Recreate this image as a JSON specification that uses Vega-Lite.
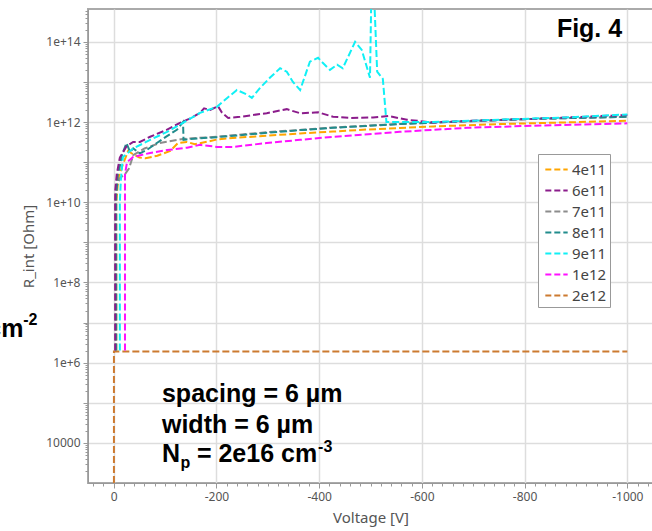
{
  "$schema": "https://vega.github.io/schema/vega-lite/v6.json",
  "width": 565,
  "height": 474,
  "autosize": {"type": "none"},
  "padding": {"left": 88, "top": 9, "right": 0, "bottom": 48},
  "background": "white",
  "config": {"view": {"stroke": "#aaa", "strokeWidth": 2}, "font": "Noto Sans"},
  "datasets": {
    "lines": [
      {"s":"2e12","i":0,"V":-0.5,"R":100},{"s":"2e12","i":1,"V":-0.5,"R":1.9e6},{"s":"2e12","i":2,"V":-1000,"R":1.9e6},

      {"s":"4e11","i":0,"V":-5,"R":2e6},{"s":"4e11","i":1,"V":-5,"R":1e10},{"s":"4e11","i":2,"V":-9,"R":4e10},{"s":"4e11","i":3,"V":-16,"R":7.5e10},{"s":"4e11","i":4,"V":-28,"R":1.9e11},{"s":"4e11","i":5,"V":-37,"R":1.6e11},{"s":"4e11","i":6,"V":-50,"R":1.3e11},{"s":"4e11","i":7,"V":-62,"R":1.25e11},{"s":"4e11","i":8,"V":-85,"R":1.45e11},{"s":"4e11","i":9,"V":-110,"R":1.9e11},{"s":"4e11","i":10,"V":-125,"R":3.0e11},{"s":"4e11","i":11,"V":-142,"R":3.2e11},{"s":"4e11","i":12,"V":-158,"R":2.8e11},{"s":"4e11","i":13,"V":-185,"R":3.3e11},{"s":"4e11","i":14,"V":-202,"R":3.7e11},{"s":"4e11","i":15,"V":-232,"R":4.0e11},{"s":"4e11","i":16,"V":-300,"R":4.6e11},{"s":"4e11","i":17,"V":-363,"R":5.2e11},{"s":"4e11","i":18,"V":-427,"R":5.8e11},{"s":"4e11","i":19,"V":-493,"R":6.5e11},{"s":"4e11","i":20,"V":-557,"R":7.1e11},{"s":"4e11","i":21,"V":-623,"R":7.8e11},{"s":"4e11","i":22,"V":-752,"R":8.9e11},{"s":"4e11","i":23,"V":-880,"R":9.8e11},{"s":"4e11","i":24,"V":-1000,"R":1.08e12},

      {"s":"7e11","i":0,"V":-3,"R":2e6},{"s":"7e11","i":1,"V":-3,"R":1.2e10},{"s":"7e11","i":2,"V":-6,"R":2.5e10},{"s":"7e11","i":3,"V":-12,"R":4e10},{"s":"7e11","i":4,"V":-22,"R":5e10},{"s":"7e11","i":5,"V":-30,"R":7e10},{"s":"7e11","i":6,"V":-38,"R":1.5e11},{"s":"7e11","i":7,"V":-60,"R":2.2e11},{"s":"7e11","i":8,"V":-90,"R":3.0e11},{"s":"7e11","i":9,"V":-135,"R":3.8e11},{"s":"7e11","i":10,"V":-200,"R":4.3e11},{"s":"7e11","i":11,"V":-300,"R":5.6e11},{"s":"7e11","i":12,"V":-427,"R":7.3e11},{"s":"7e11","i":13,"V":-557,"R":9.0e11},{"s":"7e11","i":14,"V":-688,"R":1.05e12},{"s":"7e11","i":15,"V":-816,"R":1.2e12},{"s":"7e11","i":16,"V":-1000,"R":1.35e12},

      {"s":"8e11","i":0,"V":-5,"R":2e6},{"s":"8e11","i":1,"V":-5,"R":1.5e10},{"s":"8e11","i":2,"V":-8,"R":5e10},{"s":"8e11","i":3,"V":-12,"R":8e10},{"s":"8e11","i":4,"V":-16,"R":1.5e11},{"s":"8e11","i":5,"V":-25,"R":3.0e11},{"s":"8e11","i":6,"V":-32,"R":1.8e11},{"s":"8e11","i":7,"V":-38,"R":2.2e11},{"s":"8e11","i":8,"V":-51,"R":1.66e11},{"s":"8e11","i":9,"V":-64,"R":2.0e11},{"s":"8e11","i":10,"V":-84,"R":3.0e11},{"s":"8e11","i":11,"V":-103,"R":4.4e11},{"s":"8e11","i":12,"V":-123,"R":6.4e11},{"s":"8e11","i":13,"V":-135,"R":1.0e12},{"s":"8e11","i":14,"V":-136,"R":3.6e11},{"s":"8e11","i":15,"V":-142,"R":3.7e11},{"s":"8e11","i":16,"V":-200,"R":4.2e11},{"s":"8e11","i":17,"V":-300,"R":5.4e11},{"s":"8e11","i":18,"V":-363,"R":6.3e11},{"s":"8e11","i":19,"V":-427,"R":7.2e11},{"s":"8e11","i":20,"V":-557,"R":8.9e11},{"s":"8e11","i":21,"V":-688,"R":1.05e12},{"s":"8e11","i":22,"V":-816,"R":1.2e12},{"s":"8e11","i":23,"V":-1000,"R":1.35e12},

      {"s":"6e11","i":0,"V":-3,"R":2e6},{"s":"6e11","i":1,"V":-3,"R":2e10},{"s":"6e11","i":2,"V":-6,"R":5e10},{"s":"6e11","i":3,"V":-12,"R":1.3e11},{"s":"6e11","i":4,"V":-25,"R":2.5e11},{"s":"6e11","i":5,"V":-38,"R":3.2e11},{"s":"6e11","i":6,"V":-51,"R":3.2e11},{"s":"6e11","i":7,"V":-71,"R":4.3e11},{"s":"6e11","i":8,"V":-103,"R":6.4e11},{"s":"6e11","i":9,"V":-129,"R":9.5e11},{"s":"6e11","i":10,"V":-149,"R":1.24e12},{"s":"6e11","i":11,"V":-168,"R":1.7e12},{"s":"6e11","i":12,"V":-176,"R":2.2e12},{"s":"6e11","i":13,"V":-188,"R":2.0e12},{"s":"6e11","i":14,"V":-203,"R":2.5e12},{"s":"6e11","i":15,"V":-211,"R":1.7e12},{"s":"6e11","i":16,"V":-223,"R":1.27e12},{"s":"6e11","i":17,"V":-246,"R":1.35e12},{"s":"6e11","i":18,"V":-271,"R":1.5e12},{"s":"6e11","i":19,"V":-298,"R":1.66e12},{"s":"6e11","i":20,"V":-324,"R":1.95e12},{"s":"6e11","i":21,"V":-337,"R":2.1e12},{"s":"6e11","i":22,"V":-363,"R":1.66e12},{"s":"6e11","i":23,"V":-398,"R":1.75e12},{"s":"6e11","i":24,"V":-427,"R":1.36e12},{"s":"6e11","i":25,"V":-460,"R":1.27e12},{"s":"6e11","i":26,"V":-505,"R":1.3e12},{"s":"6e11","i":27,"V":-535,"R":1.42e12},{"s":"6e11","i":28,"V":-571,"R":1.14e12},{"s":"6e11","i":29,"V":-622,"R":9.8e11},{"s":"6e11","i":30,"V":-688,"R":1.07e12},{"s":"6e11","i":31,"V":-816,"R":1.2e12},{"s":"6e11","i":32,"V":-1000,"R":1.5e12},

      {"s":"1e12","i":0,"V":-22,"R":2e6},{"s":"1e12","i":1,"V":-22,"R":5e10},{"s":"1e12","i":2,"V":-26,"R":1.0e11},{"s":"1e12","i":3,"V":-38,"R":1.35e11},{"s":"1e12","i":4,"V":-71,"R":1.7e11},{"s":"1e12","i":5,"V":-104,"R":2.0e11},{"s":"1e12","i":6,"V":-143,"R":2.3e11},{"s":"1e12","i":7,"V":-168,"R":2.7e11},{"s":"1e12","i":8,"V":-201,"R":2.4e11},{"s":"1e12","i":9,"V":-232,"R":2.4e11},{"s":"1e12","i":10,"V":-298,"R":3.0e11},{"s":"1e12","i":11,"V":-363,"R":3.6e11},{"s":"1e12","i":12,"V":-427,"R":4.3e11},{"s":"1e12","i":13,"V":-557,"R":5.7e11},{"s":"1e12","i":14,"V":-688,"R":7.2e11},{"s":"1e12","i":15,"V":-816,"R":8.1e11},{"s":"1e12","i":16,"V":-1000,"R":9.3e11},

      {"s":"9e11","i":0,"V":-12,"R":2e6},{"s":"9e11","i":1,"V":-12,"R":1e10},{"s":"9e11","i":2,"V":-14,"R":3.7e10},{"s":"9e11","i":3,"V":-18,"R":1.35e11},{"s":"9e11","i":4,"V":-38,"R":2.2e11},{"s":"9e11","i":5,"V":-71,"R":3.6e11},{"s":"9e11","i":6,"V":-104,"R":5.7e11},{"s":"9e11","i":7,"V":-135,"R":9.6e11},{"s":"9e11","i":8,"V":-168,"R":1.7e12},{"s":"9e11","i":9,"V":-201,"R":2.4e12},{"s":"9e11","i":10,"V":-221,"R":4.0e12},{"s":"9e11","i":11,"V":-240,"R":6.3e12},{"s":"9e11","i":12,"V":-260,"R":4.8e12},{"s":"9e11","i":13,"V":-269,"R":4.0e12},{"s":"9e11","i":14,"V":-285,"R":7.1e12},{"s":"9e11","i":15,"V":-304,"R":1.27e13},{"s":"9e11","i":16,"V":-324,"R":2.2e13},{"s":"9e11","i":17,"V":-337,"R":1.8e13},{"s":"9e11","i":18,"V":-349,"R":1.0e13},{"s":"9e11","i":19,"V":-363,"R":6.3e12},{"s":"9e11","i":20,"V":-382,"R":3.2e13},{"s":"9e11","i":21,"V":-398,"R":4.0e13},{"s":"9e11","i":22,"V":-407,"R":3.0e13},{"s":"9e11","i":23,"V":-421,"R":2.0e13},{"s":"9e11","i":24,"V":-435,"R":2.7e13},{"s":"9e11","i":25,"V":-446,"R":2.2e13},{"s":"9e11","i":26,"V":-470,"R":1.0e14},{"s":"9e11","i":27,"V":-483,"R":6.3e13},{"s":"9e11","i":28,"V":-499,"R":1.27e13},{"s":"9e11","i":29,"V":-502,"R":3e15},{"s":"9e11","i":30,"V":-506,"R":3e15},{"s":"9e11","i":31,"V":-513,"R":1.8e13},{"s":"9e11","i":32,"V":-524,"R":1.2e13},{"s":"9e11","i":33,"V":-531,"R":1.0e12},{"s":"9e11","i":34,"V":-622,"R":1.0e12},{"s":"9e11","i":35,"V":-752,"R":1.15e12},{"s":"9e11","i":36,"V":-880,"R":1.3e12},{"s":"9e11","i":37,"V":-1000,"R":1.55e12}
    ],
    "notes": [
      {"kind":"big","txt":"spacing = 6 µm","V":-94,"R":1.05e5},
      {"kind":"big","txt":"width = 6 µm","V":-94,"R":1.77e4},
      {"kind":"big","txt":"N","V":-94,"R":3.36e3},
      {"kind":"big","txt":"= 2e16 cm","V":-162,"R":3.36e3},
      {"kind":"big","txt":"cm","V":246,"R":4.4e6},
      {"kind":"small","txt":"p","V":-130,"R":2.38e3},
      {"kind":"small","txt":"-3","V":-398,"R":5.97e3},
      {"kind":"small","txt":"-2","V":176,"R":8.8e6},
      {"kind":"right","txt":"Fig. 4","V":-990,"R":1.33e14}
    ]
  },
  "layer": [
    {
      "data": {"name": "lines"},
      "mark": {"type": "line", "strokeWidth": 2, "strokeDash": [7, 3], "clip": true},
      "encoding": {
        "x": {"field": "V", "type": "quantitative",
          "scale": {"domain": [-1050, 50], "reverse": true, "nice": false, "zero": false},
          "axis": {"values": [0, -200, -400, -600, -800, -1000], "labelExpr": "'' + datum.value",
            "grid": true, "gridColor": "#ddd", "gridWidth": 1.5, "tickSize": 5, "tickColor": "#999",
            "domainColor": "#999", "labelColor": "#555", "labelFontSize": 12, "labelFont": "Noto Sans",
            "title": "Voltage [V]", "titleFontSize": 15, "titleFontWeight": "normal", "titleColor": "#555",
            "titleFont": "Noto Sans", "titlePadding": 8, "labelPadding": 3}},
        "y": {"field": "R", "type": "quantitative",
          "scale": {"type": "log", "domain": [1000, 6.6e14], "nice": false},
          "axis": {"values": [1e4, 1e5, 1e6, 1e7, 1e8, 1e9, 1e10, 1e11, 1e12, 1e13, 1e14],
            "labelExpr": "(round(log(datum.value)/LN10) % 2 == 0) ? (datum.value >= 1e5 ? format(datum.value, '.0e') : format(datum.value, 'd')) : ''",
            "labelOverlap": false, "grid": true, "gridColor": "#ddd", "gridWidth": 1.5, "tickSize": 5,
            "tickColor": "#999", "domainColor": "#999", "labelColor": "#555", "labelFontSize": 12,
            "labelFont": "Noto Sans", "title": "R_int [Ohm]", "titleFontSize": 15, "titleFontWeight": "normal",
            "titleColor": "#555", "titleFont": "Noto Sans", "titlePadding": 9, "labelPadding": 3}},
        "color": {"field": "s", "type": "nominal",
          "scale": {"domain": ["4e11", "6e11", "7e11", "8e11", "9e11", "1e12", "2e12"],
            "range": ["#FFA500", "#8B1C8B", "#8C8C8C", "#218C8C", "#10F0F5", "#FF10FF", "#CC7A30"]},
          "legend": {"title": null, "orient": "none", "legendX": 450, "legendY": 145, "fillColor": "white",
            "strokeColor": "#999", "padding": 3, "symbolType": "stroke", "symbolStrokeWidth": 2,
            "symbolDash": [6, 3], "symbolSize": 500, "labelFontSize": 15, "labelFont": "Noto Sans",
            "labelColor": "#444", "labelOffset": 3, "rowPadding": 0, "symbolOffset": 3}},
        "order": {"field": "i", "type": "quantitative"}
      }
    },
    {
      "data": {"name": "lines"},
      "mark": {"type": "line", "opacity": 0},
      "encoding": {
        "x": {"field": "V", "type": "quantitative",
          "scale": {"domain": [-1050, 50], "reverse": true, "nice": false, "zero": false},
          "axis": {"orient": "bottom", "values": [40, 20, -20, -40, -60, -80, -100, -120, -140, -160, -180, -220, -240, -260, -280, -300, -320, -340, -360, -380, -420, -440, -460, -480, -500, -520, -540, -560, -580, -620, -640, -660, -680, -700, -720, -740, -760, -780, -820, -840, -860, -880, -900, -920, -940, -960, -980, -1020, -1040],
            "labels": false, "grid": false, "domain": false, "tickSize": 3, "tickColor": "#999", "title": null}},
        "y": {"field": "R", "type": "quantitative",
          "scale": {"type": "log", "domain": [1000, 6.6e14], "nice": false},
          "axis": {"orient": "left", "values": [2e3, 3e3, 4e3, 5e3, 6e3, 7e3, 8e3, 9e3, 2e4, 3e4, 4e4, 5e4, 6e4, 7e4, 8e4, 9e4, 2e5, 3e5, 4e5, 5e5, 6e5, 7e5, 8e5, 9e5, 2e6, 3e6, 4e6, 5e6, 6e6, 7e6, 8e6, 9e6, 2e7, 3e7, 4e7, 5e7, 6e7, 7e7, 8e7, 9e7, 2e8, 3e8, 4e8, 5e8, 6e8, 7e8, 8e8, 9e8, 2e9, 3e9, 4e9, 5e9, 6e9, 7e9, 8e9, 9e9, 2e10, 3e10, 4e10, 5e10, 6e10, 7e10, 8e10, 9e10, 2e11, 3e11, 4e11, 5e11, 6e11, 7e11, 8e11, 9e11, 2e12, 3e12, 4e12, 5e12, 6e12, 7e12, 8e12, 9e12, 2e13, 3e13, 4e13, 5e13, 6e13, 7e13, 8e13, 9e13, 2e14, 3e14, 4e14, 5e14, 6e14],
            "labels": false, "grid": false, "domain": false, "tickSize": 3, "tickColor": "#999", "title": null}},
        "detail": {"field": "s", "type": "nominal"}
      }
    },
    {
      "data": {"name": "notes"},
      "transform": [{"filter": "datum.kind == 'big'"}],
      "mark": {"type": "text", "font": "Liberation Sans", "fontWeight": "bold", "fontSize": 25, "align": "left", "baseline": "alphabetic", "color": "black"},
      "encoding": {
        "x": {"field": "V", "type": "quantitative", "scale": {"domain": [-1050, 50], "reverse": true, "nice": false, "zero": false}, "axis": null},
        "y": {"field": "R", "type": "quantitative", "scale": {"type": "log", "domain": [1000, 6.6e14], "nice": false}, "axis": null},
        "text": {"field": "txt"}
      }
    },
    {
      "data": {"name": "notes"},
      "transform": [{"filter": "datum.kind == 'small'"}],
      "mark": {"type": "text", "font": "Liberation Sans", "fontWeight": "bold", "fontSize": 16, "align": "left", "baseline": "alphabetic", "color": "black"},
      "encoding": {
        "x": {"field": "V", "type": "quantitative", "scale": {"domain": [-1050, 50], "reverse": true, "nice": false, "zero": false}, "axis": null},
        "y": {"field": "R", "type": "quantitative", "scale": {"type": "log", "domain": [1000, 6.6e14], "nice": false}, "axis": null},
        "text": {"field": "txt"}
      }
    },
    {
      "data": {"name": "notes"},
      "transform": [{"filter": "datum.kind == 'right'"}],
      "mark": {"type": "text", "font": "Liberation Sans", "fontWeight": "bold", "fontSize": 25, "align": "right", "baseline": "alphabetic", "color": "black"},
      "encoding": {
        "x": {"field": "V", "type": "quantitative", "scale": {"domain": [-1050, 50], "reverse": true, "nice": false, "zero": false}, "axis": null},
        "y": {"field": "R", "type": "quantitative", "scale": {"type": "log", "domain": [1000, 6.6e14], "nice": false}, "axis": null},
        "text": {"field": "txt"}
      }
    }
  ],
  "resolve": {"axis": {"x": "independent", "y": "independent"}}
}
